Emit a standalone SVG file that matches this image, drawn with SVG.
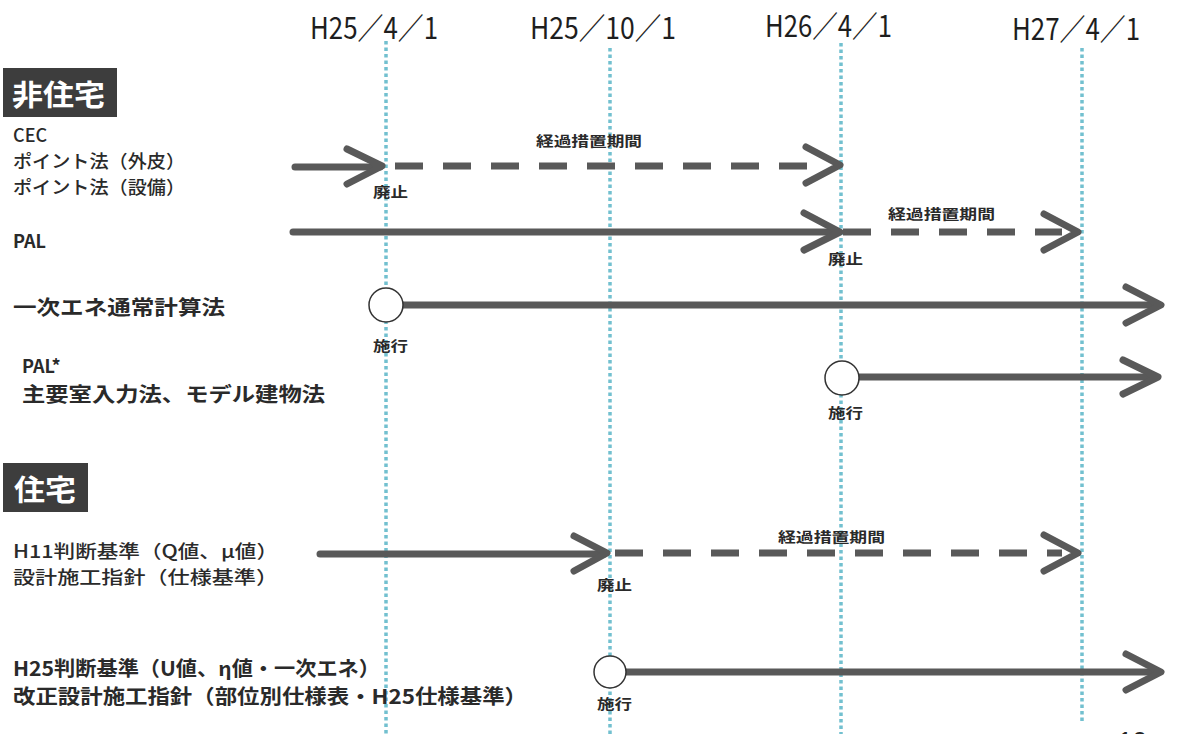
<svg xmlns="http://www.w3.org/2000/svg" width="1180" height="734" viewBox="0 0 1180 734">
<style>
.bg{fill:#ffffff}
.date{font-family:"Noto Sans CJK JP","Noto Sans",sans-serif;font-size:30px;fill:#1e1e1e}
.hdr{fill:#3d3d3d}
.hdrt{font-family:"Noto Sans CJK JP",sans-serif;font-size:29px;font-weight:bold;fill:#ffffff}
.lbl{font-family:"Noto Sans CJK JP","Liberation Sans",sans-serif;font-size:18px;font-weight:500;fill:#2a2a2a}
.lblb{font-family:"Noto Sans CJK JP","Liberation Sans",sans-serif;font-size:20px;font-weight:bold;fill:#2a2a2a}
.sm{font-family:"Noto Sans CJK JP",sans-serif;font-size:14px;font-weight:bold;fill:#2a2a2a}
.grid{stroke:#72c0cf;stroke-width:3.5;stroke-dasharray:3.5 3;fill:none}
.ln{stroke:#595959;stroke-width:7;fill:none;stroke-linecap:round;stroke-linejoin:round}
.dash{stroke:#595959;stroke-width:7;fill:none;stroke-dasharray:28 20}
.circ{fill:#ffffff;stroke:#333333;stroke-width:1.5}
</style>
<rect class="bg" x="0" y="0" width="1180" height="734"/>

<g id="timeline-dates">
  <text class="date" x="310" y="39" textLength="128" lengthAdjust="spacingAndGlyphs">H25／4／1</text>
  <text class="date" x="530" y="39" textLength="146" lengthAdjust="spacingAndGlyphs">H25／10／1</text>
  <text class="date" x="765" y="37" textLength="127" lengthAdjust="spacingAndGlyphs">H26／4／1</text>
  <text class="date" x="1012" y="40" textLength="128" lengthAdjust="spacingAndGlyphs">H27／4／1</text>
</g>

<g id="gridlines">
  <line class="grid" x1="386" y1="41" x2="386" y2="734"/>
  <line class="grid" x1="610" y1="48" x2="610" y2="734"/>
  <line class="grid" x1="841" y1="43" x2="841" y2="734"/>
  <line class="grid" x1="1082" y1="48" x2="1082" y2="722"/>
</g>

<g id="header-nonres">
  <rect class="hdr" x="3" y="68" width="114" height="49"/>
  <text class="hdrt" x="12" y="106" textLength="93" lengthAdjust="spacingAndGlyphs">非住宅</text>
</g>
<g id="header-res">
  <rect class="hdr" x="3" y="463" width="85" height="49"/>
  <text class="hdrt" x="14" y="501" textLength="62" lengthAdjust="spacingAndGlyphs">住宅</text>
</g>

<g id="label-cec">
  <text class="lbl" x="13" y="142">CEC</text>
  <text class="lbl" x="13" y="168" textLength="172" lengthAdjust="spacingAndGlyphs">ポイント法（外皮）</text>
  <text class="lbl" x="13" y="194" textLength="172" lengthAdjust="spacingAndGlyphs">ポイント法（設備）</text>
</g>
<g id="label-pal">
  <text class="lblb" x="13" y="248" style="font-size:18px">PAL</text>
</g>
<g id="label-primary">
  <text class="lblb" x="13" y="315" textLength="212" lengthAdjust="spacingAndGlyphs">一次エネ通常計算法</text>
</g>
<g id="label-palstar">
  <text class="lblb" x="22" y="373" style="font-size:18px">PAL*</text>
  <text class="lblb" x="22" y="402" textLength="303" lengthAdjust="spacingAndGlyphs">主要室入力法、モデル建物法</text>
</g>
<g id="label-h11">
  <text class="lbl" x="13" y="558" textLength="265" lengthAdjust="spacingAndGlyphs">H11判断基準（Q値、μ値）</text>
  <text class="lbl" x="13" y="584" textLength="265" lengthAdjust="spacingAndGlyphs">設計施工指針（仕様基準）</text>
</g>
<g id="label-h25">
  <text class="lblb" x="13" y="676" textLength="367" lengthAdjust="spacingAndGlyphs">H25判断基準（U値、η値・一次エネ）</text>
  <text class="lblb" x="13" y="704" textLength="514" lengthAdjust="spacingAndGlyphs">改正設計施工指針（部位別仕様表・H25仕様基準）</text>
</g>

<g id="connectors">
  <!-- Row 1: CEC / point methods -->
  <path class="ln" d="M295,167 H380"/>
  <path class="ln" d="M347,149 L382,166 L347,184"/>
  <path class="dash" d="M395,166 H812"/>
  <path class="ln" d="M806,147 L840,165 L806,183"/>
  <!-- Row 2: PAL -->
  <path class="ln" d="M293,232 H838"/>
  <path class="ln" d="M804,213 L840,232 L804,250"/>
  <path class="dash" d="M843,232 H1062"/>
  <path class="ln" d="M1044,214 L1078,232 L1044,250"/>
  <!-- Row 3: primary energy -->
  <path class="ln" d="M403,305 H1158"/>
  <path class="ln" d="M1126,287 L1161,305 L1126,323"/>
  <!-- Row 4: PAL* -->
  <path class="ln" d="M859,377 H1156"/>
  <path class="ln" d="M1123,360 L1158,377 L1123,394"/>
  <!-- Row 5: H11 -->
  <path class="ln" d="M320,554 H604"/>
  <path class="ln" d="M574,536 L607,553 L574,571"/>
  <path class="dash" d="M615,553 H1062"/>
  <path class="ln" d="M1044,535 L1078,553 L1044,571"/>
  <!-- Row 6: H25 -->
  <path class="ln" d="M626,672 H1158"/>
  <path class="ln" d="M1126,654 L1161,672 L1126,690"/>
</g>

<g id="event-markers">
  <circle class="circ" cx="386" cy="305" r="17"/>
  <circle class="circ" cx="842" cy="378" r="17"/>
  <circle class="circ" cx="610" cy="672" r="16"/>
</g>

<g id="event-labels">
  <text class="sm" x="536" y="146" textLength="106" lengthAdjust="spacingAndGlyphs">経過措置期間</text>
  <text class="sm" x="888" y="219" textLength="107" lengthAdjust="spacingAndGlyphs">経過措置期間</text>
  <text class="sm" x="778" y="542" textLength="107" lengthAdjust="spacingAndGlyphs">経過措置期間</text>
  <text class="sm" x="373" y="197" textLength="35" lengthAdjust="spacingAndGlyphs">廃止</text>
  <text class="sm" x="828" y="264" textLength="35" lengthAdjust="spacingAndGlyphs">廃止</text>
  <text class="sm" x="597" y="590" textLength="35" lengthAdjust="spacingAndGlyphs">廃止</text>
  <text class="sm" x="373" y="351" textLength="35" lengthAdjust="spacingAndGlyphs">施行</text>
  <text class="sm" x="828" y="418" textLength="35" lengthAdjust="spacingAndGlyphs">施行</text>
  <text class="sm" x="597" y="709" textLength="35" lengthAdjust="spacingAndGlyphs">施行</text>
</g>

<g id="page-number">
  <text x="1118" y="750" style="font-family:'Liberation Sans',sans-serif;font-size:26px;fill:#222">10</text>
</g>
</svg>
